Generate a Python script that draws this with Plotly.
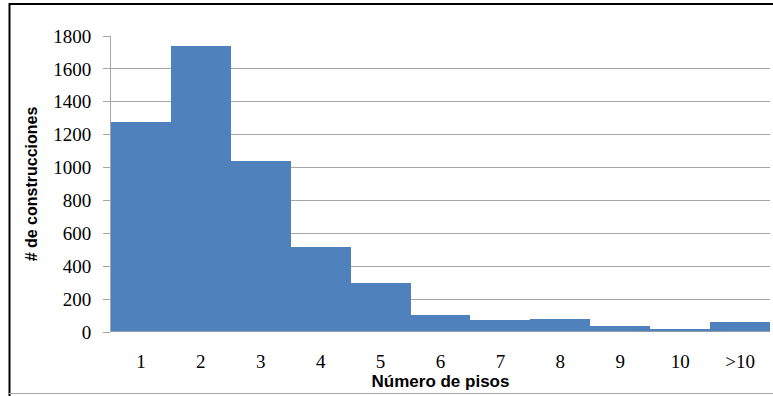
import plotly.graph_objects as go

categories = ["1", "2", "3", "4", "5", "6", "7", "8", "9", "10", ">10"]
counts = [1277, 1738, 1040, 517, 298, 103, 73, 79, 35, 18, 61]
y_ticks = [0, 200, 400, 600, 800, 1000, 1200, 1400, 1600, 1800]

W, H = 773, 396
L, R, T, B = 111, 3, 36, 64
pw, ph = W - L - R, H - T - B

SERIF = "Liberation Serif, Times New Roman, DejaVu Serif, serif"
SANS = "Liberation Sans, Arial, DejaVu Sans, sans-serif"

def px_x(x):
    return (x - L) / pw

def px_y(y):
    return (H - B - y) / ph

fig = go.Figure(go.Bar(x=categories, y=counts, marker=dict(color="#4F81BD", line=dict(width=0))))

fig.update_layout(
    width=W, height=H,
    margin=dict(l=L, r=R, t=T, b=B, autoexpand=False),
    paper_bgcolor="white", plot_bgcolor="white",
    bargap=0,
    showlegend=False,
    font=dict(family=SERIF, size=19, color="#000000"),
    xaxis=dict(
        type="category",
        showgrid=False,
        showline=False,
        ticks="",
        ticklabelstandoff=16,
        tickfont=dict(family=SERIF, size=19, color="#000000"),
        title=dict(text="<b>Número de pisos</b>", font=dict(family=SANS, size=17, color="#000000"), standoff=0),
    ),
    yaxis=dict(
        range=[0, 1800],
        tickvals=y_ticks,
        showgrid=True, gridcolor="#A6A6A6", gridwidth=1,
        showline=True, linecolor="#A6A6A6", linewidth=1,
        ticks="outside", ticklen=7, tickcolor="#A6A6A6",
        ticklabelstandoff=8,
        zeroline=False,
        tickfont=dict(family=SERIF, size=19, color="#000000"),
        title=dict(text="<b># de construcciones</b>", font=dict(family=SANS, size=16, color="#000000"), standoff=11),
    ),
)

# zero axis line
fig.add_shape(type="line", xref="paper", yref="y", x0=0, x1=1, y0=0, y1=0,
              line=dict(color="#A6A6A6", width=1.5))

# outer frame
fig.add_shape(type="line", xref="paper", yref="paper", x0=px_x(9), x1=px_x(773), y0=px_y(4), y1=px_y(4),
              line=dict(color="#000000", width=2))
fig.add_shape(type="line", xref="paper", yref="paper", x0=px_x(9.5), x1=px_x(9.5), y0=px_y(3), y1=px_y(396),
              line=dict(color="#000000", width=2))
fig.add_shape(type="line", xref="paper", yref="paper", x0=px_x(9), x1=px_x(773), y0=px_y(393.5), y1=px_y(393.5),
              line=dict(color="#A6A6A6", width=1))

fig.write_html("out.html", config={"displayModeBar": False},
               post_script="document.body.style.margin='0';document.body.style.padding='0';")
